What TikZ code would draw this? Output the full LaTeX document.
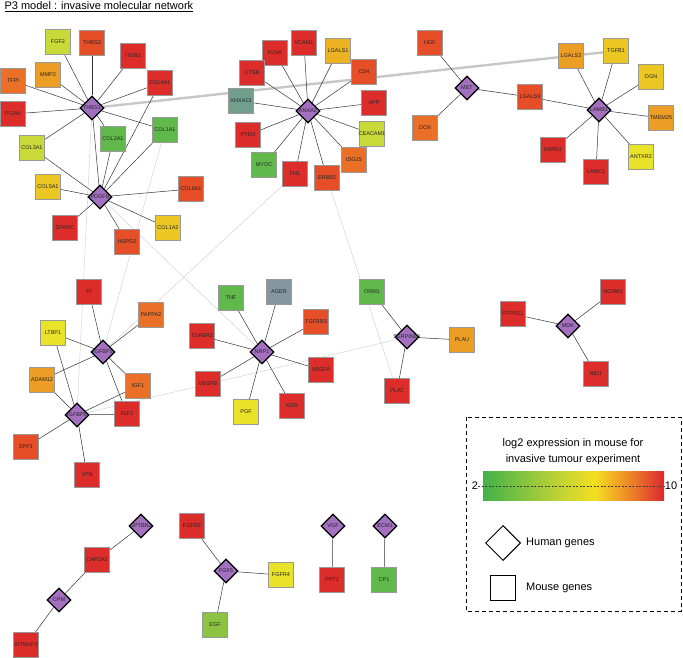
\documentclass[tikz,border=0pt]{standalone}
\usepackage{fontspec}
\setmainfont{Liberation Sans}
\usetikzlibrary{shapes.geometric,backgrounds}

\definecolor{cR}{RGB}{221,45,43}
\definecolor{cRO}{RGB}{230,78,40}
\definecolor{cO}{RGB}{234,112,40}
\definecolor{cOY}{RGB}{236,157,35}
\definecolor{cGold}{RGB}{236,178,35}
\definecolor{cYO}{RGB}{236,198,35}
\definecolor{cY}{RGB}{232,226,40}
\definecolor{cYG}{RGB}{200,218,55}
\definecolor{cLG}{RGB}{140,195,65}
\definecolor{cG}{RGB}{98,185,75}
\definecolor{cTeal}{RGB}{112,160,140}
\definecolor{cSlate}{RGB}{132,150,160}
\definecolor{cHum}{RGB}{162,112,190}
% colour scale of the legend
\definecolor{gA}{RGB}{65,178,72}
\definecolor{gB}{RGB}{140,198,62}
\definecolor{gC}{RGB}{200,214,50}
\definecolor{gD}{RGB}{242,222,32}
\definecolor{gE}{RGB}{242,175,35}
\definecolor{gF}{RGB}{234,115,42}
\definecolor{gG}{RGB}{220,38,45}
\pgfdeclarehorizontalshading{exprbar}{100bp}{color(0bp)=(gA); color(25bp)=(gA);
  color(37.5bp)=(gB); color(47.5bp)=(gC); color(56bp)=(gD); color(61bp)=(gE);
  color(67.5bp)=(gF); color(75bp)=(gG); color(100bp)=(gG)}

\tikzset{
  mouse/.style={draw=black!40, line width=0.5pt, fill=#1, minimum size=25pt,
    inner sep=0pt, font=\fontsize{5.5}{6}\selectfont, text=black!85},
  human/.style={diamond, draw=black, line width=1.3pt, fill=cHum, minimum size=24pt,
    inner sep=0pt},
  gtext/.style={font=\fontsize{5.5}{6}\selectfont, text=black!85, inner sep=0pt},
  link/.style={line width=0.5pt, black!80},
  weak/.style={line width=0.4pt, black!20},
  legtext/.style={font=\fontsize{11}{16.5}\selectfont, inner sep=0pt},
}

\begin{document}
\begin{tikzpicture}[x=1pt,y=-1pt]
  \useasboundingbox (0,0) rectangle (683,658);

  % Title
  \node[anchor=base west, font=\fontsize{11}{13}\selectfont] (title) at (1,9.5)
    {\underline{P3 model : invasive molecular network}};

  % Human genes
  \foreach \n/\x/\y/\t in {thbs1/92/108/THBS1, pdgfb/100/197/PDGFB, anxa2/308/111/ANXA2,
      met/467/88/MET, lamb1/599/110/LAMB1, igfbp3/103/352/IGFBP3, igfbp5/77/415/IGFBP5,
      nrp1/262/352/NRP1, serpine1/407/337/SERPINE1, mdk/568/326/MDK,
      sptbn2/141/526/SPTBN2, cpm/59/600/CPM, fgf5/226/571/FGF5, vgf/333/526/VGF,
      ecm1/385/526/ECM1} {
    \node[human, label={[gtext]center:\t}] (\n) at (\x,\y) {};
  }

  % Mouse genes
  \foreach \n/\x/\y/\c/\t in {fgf2/58/42/cYG/FGF2, thbs3/92/43/cRO/THBS3,
      itgb1/133/56/cR/ITGB1, tfpi/13/81/cO/TFPI, mmp2/48/75/cOY/MMP2,
      col4a1/160/83/cR/COL4A1, itgav/13/114/cR/ITGAV, col2a1/113/139/cG/COL2A1,
      col1a1/165/130/cG/COL1A1, col3a1/32/148/cYG/COL3A1, col5a1/48/187/cYO/COL5A1,
      col6a1/191/189/cRO/COL6A1, sparc/65/228/cR/SPARC, hspg2/127/242/cRO/HSPG2,
      col1a2/168/228/cYO/COL1A2,
      vcam1/304/43/cR/VCAM1, flna/275/53/cR/FLNA, lgals1/338/51/cGold/LGALS1,
      ctsb/252/73/cR/CTSB, cd4/364/72/cRO/CD4, anxa13/241/101/cTeal/ANXA13,
      app/374/103/cR/APP, pten/248/135/cR/PTEN, ceacam1/372/134/cYG/CEACAM1,
      myoc/264/165/cG/MYOC, fn1/295/174/cR/FN1, erbb3/327/178/cRO/ERBB3,
      isg15/354/160/cO/ISG15,
      hgf/430/43/cRO/HGF, dcn/425/128/cO/DCN, lgals9/530/97/cRO/LGALS9,
      lgals3/571/56/cOY/LGALS3, tgfb1/616/51/cYO/TGFB1, ogn/651/77/cYO/OGN,
      tmem25/661/118/cOY/TMEM25, hspd1/553/150/cR/HSPD1, antxr2/641/157/cY/ANTXR2,
      lamc1/596/172/cR/LAMC1,
      tf/89/292/cR/TF, pappa2/151/315/cO/PAPPA2, ltbp1/53/333/cY/LTBP1,
      tgfbr2/202/336/cR/TGFBR2, adam12/42/380/cOY/ADAM12, igf1/138/386/cO/IGF1,
      vegfb/208/384/cR/VEGFB, igf2/127/414/cR/IGF2, spp1/26/447/cRO/SPP1,
      vtn/87/475/cR/VTN,
      tnf/231/298/cG/TNF, ager/279/292/cSlate/AGER, tgfbr3/316/322/cRO/TGFBR3,
      vegfa/321/370/cR/VEGFA, pgf/246/412/cY/PGF, kdr/292/406/cR/KDR,
      orm1/372/292/cG/ORM1, plau/462/340/cOY/PLAU, plat/397/391/cR/PLAT,
      ptprz1/513/314/cR/PTPRZ1, ncam1/613/292/cR/NCAM1, nid1/596/374/cR/NID1,
      capza2/97/560/cR/CAPZA2, atp6ap2/26/645/cR/ATP6AP2, fgfr2/192/526/cR/FGFR2,
      fgfr4/281/575/cY/FGFR4, egf/215/625/cLG/EGF, ppt1/332/580/cR/PPT1,
      cp1/384/580/cG/CP1} {
    \node[mouse=\c] (\n) at (\x,\y) {\makebox[0pt]{\t}};
  }

  \begin{scope}[on background layer]
    % Links shown in grey
    \draw[line width=2.4pt, black!22] (thbs1) -- (tgfb1);
    \foreach \a/\b in {thbs1/igfbp5, col1a1/igfbp3, pdgfb/nrp1, fn1/igfbp3,
        erbb3/plat, igfbp5/serpine1}
      \draw[weak] (\a) -- (\b);
    % Interactions
    \foreach \a/\b in {thbs1/fgf2, thbs1/thbs3, thbs1/itgb1, thbs1/tfpi, thbs1/mmp2,
        thbs1/col4a1, thbs1/itgav, thbs1/col1a1, thbs1/col3a1, thbs1/col2a1, thbs1/pdgfb,
        pdgfb/col5a1, pdgfb/col3a1, pdgfb/col2a1, pdgfb/col4a1, pdgfb/col1a1,
        pdgfb/col6a1, pdgfb/col1a2, pdgfb/hspg2, pdgfb/sparc,
        anxa2/vcam1, anxa2/flna, anxa2/lgals1, anxa2/ctsb, anxa2/cd4, anxa2/anxa13,
        anxa2/app, anxa2/pten, anxa2/ceacam1, anxa2/myoc, anxa2/fn1, anxa2/erbb3,
        anxa2/isg15,
        met/hgf, met/dcn, met/lgals9, lamb1/lgals9, lamb1/lgals3, lamb1/tgfb1,
        lamb1/ogn, lamb1/tmem25, lamb1/antxr2, lamb1/lamc1, lamb1/hspd1,
        igfbp3/tf, igfbp3/ltbp1, igfbp3/pappa2, igfbp3/adam12, igfbp3/igf1, igfbp3/igf2,
        igfbp5/ltbp1, igfbp5/adam12, igfbp5/igf1, igfbp5/igf2, igfbp5/spp1, igfbp5/vtn,
        nrp1/tnf, nrp1/ager, nrp1/tgfbr3, nrp1/tgfbr2, nrp1/vegfa, nrp1/vegfb,
        nrp1/pgf, nrp1/kdr,
        serpine1/orm1, serpine1/plau, serpine1/plat,
        mdk/ptprz1, mdk/ncam1, mdk/nid1,
        sptbn2/capza2, cpm/capza2, cpm/atp6ap2,
        fgf5/fgfr2, fgf5/fgfr4, fgf5/egf, vgf/ppt1, ecm1/cp1}
      \draw[link] (\a) -- (\b);
  \end{scope}

  % Legend
  \draw[line width=0.8pt, dash pattern=on 4pt off 3pt] (466,417) rectangle (681,611);
  \node[legtext, align=center] (legtitle) at (573,451.5)
    {log2 expression in mouse for\\invasive tumour experiment};
  \shade[shading=exprbar] (483,471) rectangle (664,500);
  \node[legtext] (lo) at (475,486) {2};
  \node[legtext] (hi) at (671,486) {10};
  \draw[line width=0.5pt, black!75, dash pattern=on 2pt off 1.5pt] (lo.east) -- (hi.west);
  \node[diamond, draw=black, line width=1pt, fill=white, minimum size=35pt, inner sep=0pt]
    (leghuman) at (503,543) {};
  \node[legtext, anchor=west] (leghumantext) at (526,543) {Human genes};
  \node[draw=black, line width=1pt, fill=white, minimum size=25pt, inner sep=0pt]
    (legmouse) at (503,588) {};
  \node[legtext, anchor=west] (legmousetext) at (526,588) {Mouse genes};
\end{tikzpicture}
\end{document}
